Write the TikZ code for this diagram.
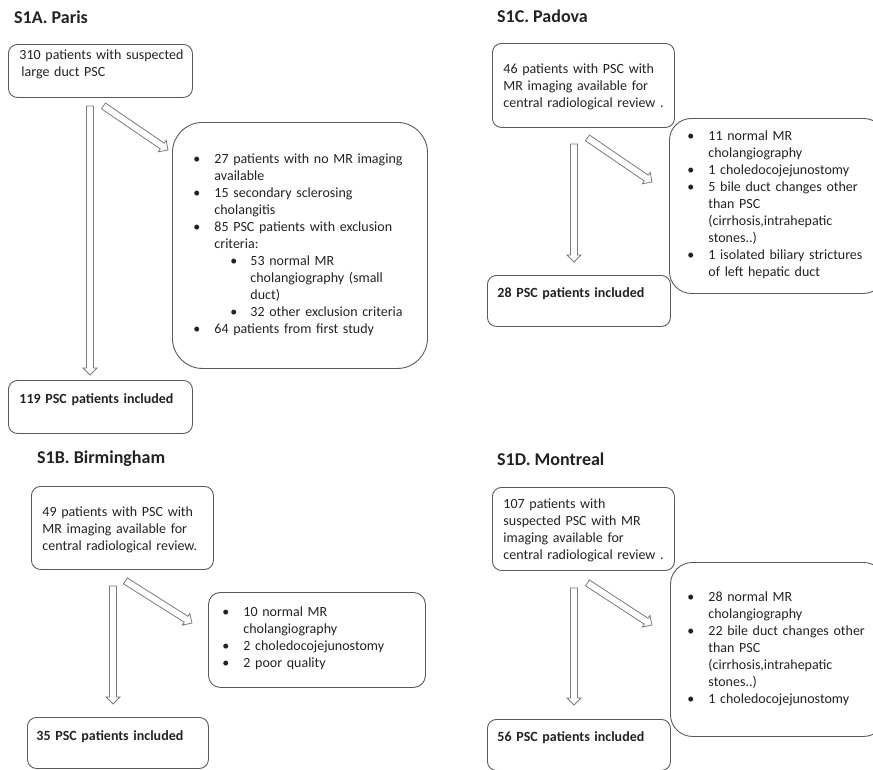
\documentclass[tikz,border=0pt]{standalone}
\usepackage{fontspec}
\setmainfont{Carlito}
\usetikzlibrary{calc}
\definecolor{boxgray}{HTML}{5A5A5A}
\definecolor{arrowgray}{HTML}{7A7A7A}
\definecolor{inkgray}{HTML}{222222}
\newcommand{\itm}{\makebox[21pt][l]{\textbullet}}
\newcommand{\ind}{\hspace*{21pt}}

\tikzset{
    box/.style={draw=boxgray, line width=0.9pt, rounded corners=9pt, anchor=north west,
        align=left, inner ysep=5pt, inner xsep=11pt, text=inkgray,
        font=\fontsize{14}{17}\selectfont},
    result/.style={box, font=\fontsize{14}{17}\selectfont\bfseries},
    title/.style={anchor=base west, inner sep=0pt, text=inkgray,
        font=\fontsize{18}{20}\selectfont\bfseries},
    hollow/.style={draw=arrowgray, line width=0.8pt, fill=white, to path={
        ($(\tikztostart)!3.5pt!90:(\tikztotarget)$)
        -- ($(\tikztotarget)!7pt!(\tikztostart)!3.5pt!90:(\tikztotarget)$)
        -- ($(\tikztotarget)!7pt!(\tikztostart)!7pt!90:(\tikztotarget)$)
        -- (\tikztotarget)
        -- ($(\tikztotarget)!7pt!(\tikztostart)!7pt!-90:(\tikztotarget)$)
        -- ($(\tikztotarget)!7pt!(\tikztostart)!3.5pt!-90:(\tikztotarget)$)
        -- ($(\tikztostart)!3.5pt!-90:(\tikztotarget)$) -- cycle}}
}

\begin{document}
\begin{tikzpicture}[x=1pt, y=-1pt]
    \useasboundingbox (0,0) rectangle (873,769);

    % S1A. Paris
    \node[title] (tA) at (14,23) {S1A. Paris};
    \node[box, inner xsep=9pt, text width=166pt, text height=10pt, text depth=33pt] (a1) at (8,44)
        {\hspace*{2pt}\mbox{310 patients with suspected}\\\hspace*{4pt}large duct PSC};
    \node[box, rounded corners=30pt, inner xsep=21pt, text width=213pt, text height=36pt, text depth=200pt] (a2) at (172,122)
        {\itm 27 patients with no MR imaging\\
         \ind available\\
         \itm 15 secondary sclerosing\\
         \ind cholangitis\\
         \itm 85 PSC patients with exclusion\\
         \ind criteria:\\
         \hspace*{37pt}\makebox[20pt][l]{\textbullet}53 normal MR\\
         \hspace*{57pt}cholangiography (small\\
         \hspace*{57pt}duct)\\
         \hspace*{37pt}\makebox[20pt][l]{\textbullet}32 other exclusion criteria\\
         \itm 64 patients from first study};
    \node[result, text width=162pt, text height=18pt, text depth=25pt] (a3) at (8,380)
        {119 PSC patients included};
    \draw[hollow] ($(a1.south)+(-10.5,8)$) to ($(a3.north)+(-10.5,-5)$);
    \draw[hollow] ($(a1.south)+(3,8)$) to ($(a2.north west)+(-4,28)$);

    % S1C. Padova
    \node[title] (tC) at (497,22) {S1C. Padova};
    \node[box, inner xsep=9pt, text width=164pt, text height=25pt, text depth=49pt] (c1) at (492,43)
        {\hspace*{2pt}46 patients with PSC with\\\hspace*{2pt}MR imaging available for\\\hspace*{2pt}\mbox{central radiological review .}};
    \node[box, rounded corners=22pt, inner xsep=18pt, text width=180pt, text height=17pt, text depth=148pt] (c2) at (669,118)
        {\itm 11 normal MR\\
         \ind cholangiography\\
         \itm 1 choledocojejunostomy\\
         \itm 5 bile duct changes other\\
         \ind than PSC\\
         \ind (cirrhosis,intrahepatic\\
         \ind stones..)\\
         \itm 1 isolated biliary strictures\\
         \ind of left hepatic duct};
    \node[result, inner xsep=10pt, text width=163pt, text height=17pt, text depth=24pt] (c3) at (487,275)
        {28 PSC patients included};
    \draw[hollow] ($(c1.south)+(-9.5,16)$) to ($(c3.north)+(-5,-13)$);
    \draw[hollow] ($(c1.south)+(4,10)$) to ($(c2.north west)+(-17,64)$);

    % S1B. Birmingham
    \node[title] (tB) at (37,463) {S1B. Birmingham};
    \node[box, inner xsep=9pt, text width=164pt, text height=25pt, text depth=48pt] (b1) at (31,486)
        {\hspace*{2pt}49 patients with PSC with\\\hspace*{2pt}MR imaging available for\\\hspace*{2pt}\mbox{central radiological review.}};
    \node[box, rounded corners=12pt, inner xsep=14pt, text width=189pt, text height=19pt, text depth=66pt] (b2) at (208,592)
        {\itm 10 normal MR\\
         \ind cholangiography\\
         \itm 2 choledocojejunostomy\\
         \itm 2 poor quality};
    \node[result, inner xsep=9pt, text width=163pt, text height=18pt, text depth=23pt] (b3) at (27,717)
        {35 PSC patients included};
    \draw[hollow] ($(b1.south)+(-9.5,16)$) to ($(b3.north)+(-5,-13)$);
    \draw[hollow] ($(b1.south)+(3,11)$) to ($(b2.north west)+(-16,31)$);

    % S1D. Montreal
    \node[title] (tD) at (497,465) {S1D. Montreal};
    \node[box, inner xsep=9pt, text width=164pt, text height=16pt, text depth=57pt] (d1) at (492,487)
        {\hspace*{2pt}107 patients with\\\hspace*{2pt}suspected PSC with MR\\\hspace*{2pt}imaging available for\\\hspace*{2pt}\mbox{central radiological review .}};
    \node[box, rounded corners=22pt, inner xsep=17pt, text width=181pt, text height=34pt, text depth=130pt] (d2) at (670,562)
        {\itm 28 normal MR\\
         \ind cholangiography\\
         \itm 22 bile duct changes other\\
         \ind than PSC\\
         \ind (cirrhosis,intrahepatic\\
         \ind stones..)\\
         \itm 1 choledocojejunostomy};
    \node[result, inner xsep=10pt, text width=163pt, text height=17pt, text depth=24pt] (d3) at (487,719)
        {56 PSC patients included};
    \draw[hollow] ($(d1.south)+(-9.5,17)$) to ($(d3.north)+(-5,-14)$);
    \draw[hollow] ($(d1.south)+(4,12)$) to ($(d2.north west)+(-18,63)$);
\end{tikzpicture}
\end{document}
